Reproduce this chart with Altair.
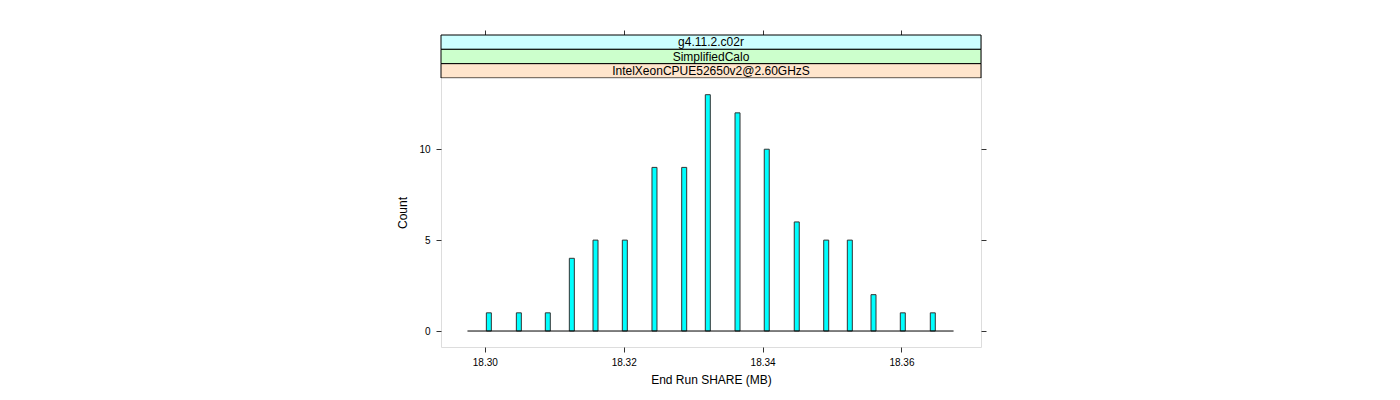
import altair as alt
import pandas as pd

# ---- data ----
share = [18.30058, 18.30490, 18.30907, 18.31253, 18.31594, 18.32016, 18.32443,
         18.32871, 18.33211, 18.33639, 18.34060, 18.34492, 18.34916, 18.35256,
         18.35597, 18.36019, 18.36451]
counts = [1, 1, 1, 4, 5, 5, 9, 9, 13, 12, 10, 6, 5, 5, 2, 1, 1]
baseline_range = [18.2975, 18.3675]
strip_labels = ["g4.11.2.c02r", "SimplifiedCalo", "IntelXeonCPUE52650v2@2.60GHzS"]
strip_colors = ["#CCFFFF", "#CCFFCC", "#FFE5CC"]
x_ticks = [18.30, 18.32, 18.34, 18.36]
y_ticks = [0, 5, 10]
x_domain = [18.29369, 18.37145]
y_domain = [-0.879, 13.918]

FONT = "Liberation Sans"
W = 540
H = 269
STRIP_H = 43

df = pd.DataFrame({"share": share, "count": counts})
base_df = pd.DataFrame({"share": [baseline_range[0]], "share_end": [baseline_range[1]],
                        "level": [0]})
sdf = pd.DataFrame({"label": strip_labels})

xscale = alt.Scale(domain=x_domain, nice=False, zero=False, padding=0)
yscale = alt.Scale(domain=y_domain, nice=False, zero=False, padding=0)

tick_style = dict(tickSize=5, tickColor="#333333", domain=False, grid=False,
                  labelFont=FONT, labelFontSize=10, labelColor="#000000")
title_style = dict(titleFont=FONT, titleFontSize=12, titleFontWeight="normal",
                   titleColor="#000000")

x_axis = alt.Axis(orient="bottom", values=x_ticks, format=".2f",
                  title="End Run SHARE (MB)", labelPadding=5,
                  titlePadding=7, **tick_style, **title_style)

bars = alt.Chart(df).mark_bar(size=5, fill="#00FFFF", stroke="#333333",
                              strokeWidth=1).encode(
    x=alt.X("share:Q", scale=xscale, axis=x_axis),
    y=alt.Y("count:Q", scale=yscale,
            axis=alt.Axis(orient="left", values=y_ticks, format="d",
                          title="Count", labelPadding=6, titlePadding=9,
                          **tick_style, **title_style)),
)

baseline = alt.Chart(base_df).mark_rule(color="#000000", strokeWidth=1).encode(
    x=alt.X("share:Q", scale=xscale, axis=x_axis),
    x2="share_end:Q",
    y=alt.Y("level:Q", scale=yscale, axis=None),
)

right_axis = alt.Chart(df).mark_point(opacity=0).encode(
    y=alt.Y("count:Q", scale=yscale,
            axis=alt.Axis(orient="right", values=y_ticks, labels=False,
                          title=None, **tick_style)),
)

main = alt.layer(bars, baseline, right_axis).resolve_axis(y="independent").properties(
    width=W, height=H
)

mid = (x_domain[0] + x_domain[1]) / 2

strip_rect = alt.Chart(sdf).mark_rect(stroke="#000000", strokeWidth=1).encode(
    x=alt.X(datum=x_domain[0], type="quantitative", scale=xscale,
            axis=alt.Axis(orient="top", values=x_ticks, labels=False, title=None,
                          tickSize=5, tickColor="#333333", domain=False, grid=False)),
    x2=alt.X2(datum=x_domain[1]),
    y=alt.Y("label:N", sort=strip_labels,
            scale=alt.Scale(paddingInner=0, paddingOuter=0), axis=None),
    fill=alt.Color("label:N", scale=alt.Scale(domain=strip_labels, range=strip_colors),
                   legend=None),
)

strip_text = alt.Chart(sdf).mark_text(font=FONT, fontSize=12, color="#000000",
                                      baseline="middle", align="center").encode(
    x=alt.X(datum=mid, type="quantitative", scale=xscale),
    y=alt.Y("label:N", sort=strip_labels,
            scale=alt.Scale(paddingInner=0, paddingOuter=0), axis=None),
    text="label:N",
)

strips = alt.layer(strip_rect, strip_text).properties(width=W, height=STRIP_H)

chart = alt.vconcat(strips, main, spacing=0, bounds="flush").properties(
    padding={"left": 388, "top": 21, "right": 5, "bottom": 5}
).configure_view(stroke="#808080", strokeWidth=1).configure(
    background="#FFFFFF"
)

chart.save("out.html", embed_options={"renderer": "svg", "actions": False})
